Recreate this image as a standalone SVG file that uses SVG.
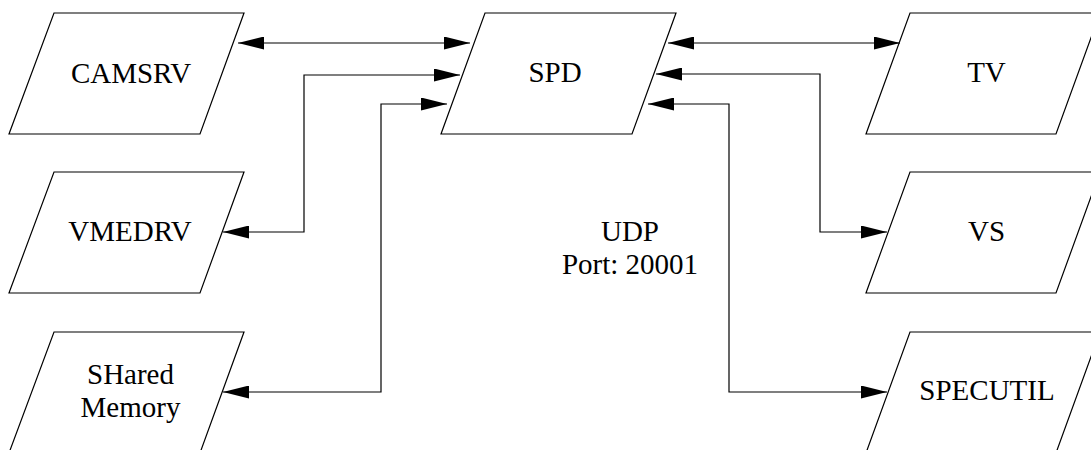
<svg xmlns="http://www.w3.org/2000/svg" width="1091" height="450" viewBox="0 0 1091 450">
  <style>
    .box { fill: #ffffff; stroke: #000000; stroke-width: 1.2; }
    text { font-family: Liberation Serif, Times New Roman, Times, serif; font-size: 29px; fill: #000000; text-anchor: middle; }
    .wire { fill: none; stroke: #000000; stroke-width: 1.2; marker-start: url(#ah); marker-end: url(#ah); }
  </style>
  <defs>
    <marker id="ah" viewBox="0 0 26 13" refX="26" refY="6.5" markerWidth="26" markerHeight="13" markerUnits="userSpaceOnUse" orient="auto-start-reverse">
      <path d="M0,0 L26,6.5 L0,13 Z" fill="#000000"/>
    </marker>
  </defs>
  <rect width="1091" height="450" fill="#ffffff"/>

  <!-- left column -->
  <g id="camsrv">
    <polygon class="box" points="54,13 244,13 200,134 9,134"/>
    <text x="131" y="83">CAMSRV</text>
  </g>
  <g id="vmedrv">
    <polygon class="box" points="54,172 244,172 200,293 9,293"/>
    <text x="130" y="241">VMEDRV</text>
  </g>
  <g id="shared-memory">
    <polygon class="box" points="54,332 244,332 200,453 9,453"/>
    <text x="130.5" y="384">SHared</text>
    <text x="130.5" y="417">Memory</text>
  </g>

  <!-- centre -->
  <g id="spd">
    <polygon class="box" points="485,13 676,13 632,134 441,134"/>
    <text x="555" y="82">SPD</text>
  </g>
  <g id="udp-label">
    <text x="630" y="241">UDP</text>
    <text x="630" y="274">Port: 20001</text>
  </g>

  <!-- right column -->
  <g id="tv">
    <polygon class="box" points="910,13 1100,13 1056,134 866,134"/>
    <text x="986.5" y="82">TV</text>
  </g>
  <g id="vs">
    <polygon class="box" points="910,172 1100,172 1056,293 866,293"/>
    <text x="986.5" y="241">VS</text>
  </g>
  <g id="specutil">
    <polygon class="box" points="910,332 1100,332 1056,453 866,453"/>
    <text x="987" y="400">SPECUTIL</text>
  </g>

  <!-- connectors -->
  <g id="connectors">
    <path class="wire" d="M238,43 H470"/>
    <path class="wire" d="M460,75 H304 V232 H223"/>
    <path class="wire" d="M447,104 H381 V392 H223"/>
    <path class="wire" d="M668,43 H900"/>
    <path class="wire" d="M656,74 H820 V232 H887"/>
    <path class="wire" d="M648,104 H729 V392 H887"/>
  </g>
</svg>
